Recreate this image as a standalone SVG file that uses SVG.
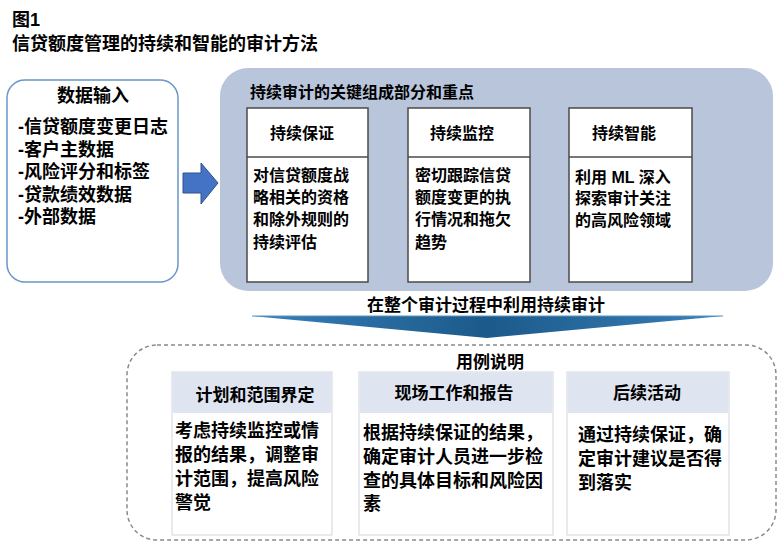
<svg xmlns="http://www.w3.org/2000/svg" width="780" height="550" viewBox="0 0 780 550">
<defs>
<style>
text{font-family:"Liberation Sans","Noto Sans CJK SC",sans-serif;font-weight:bold;fill:#000}
.t18{font-size:18px}
.t17{font-size:17px}
.t16{font-size:16px}
.mid{text-anchor:middle}
.inner{fill:#fff;stroke:#4a4a4a;stroke-width:1.5}
.sub{fill:#fff;stroke:#cfd5df;stroke-width:1}
.subhead{fill:#dfe5f0}
</style>
<linearGradient id="wedge" x1="0" y1="0" x2="1" y2="0">
<stop offset="0" stop-color="#3a7fb8"/>
<stop offset="0.5" stop-color="#1b5a8a"/>
<stop offset="1" stop-color="#3a7fb8"/>
</linearGradient>
</defs>
<rect width="780" height="550" fill="#fff"/>

<g id="title">
<text class="t18" x="12" y="26">图1</text>
<text class="t18" x="12" y="50">信贷额度管理的持续和智能的审计方法</text>
</g>

<g id="data-input">
<rect x="7" y="80" width="171" height="202" rx="18" fill="#fff" stroke="#6a96c8" stroke-width="1.5"/>
<text class="t18 mid" x="93" y="102">数据输入</text>
<text class="t18"><tspan x="18" y="133">-信贷额度变更日志</tspan><tspan x="18" dy="22.5">-客户主数据</tspan><tspan x="18" dy="22.5">-风险评分和标签</tspan><tspan x="18" dy="22.5">-贷款绩效数据</tspan><tspan x="18" dy="22.5">-外部数据</tspan></text>
</g>

<g id="key-components">
<rect x="220" y="68" width="553" height="223" rx="28" fill="#b8c5db"/>
<text class="t16" x="250" y="98">持续审计的关键组成部分和重点</text>
</g>

<g id="assurance">
<rect class="inner" x="247" y="108" width="121" height="174"/>
<line x1="247" y1="157" x2="368" y2="157" stroke="#4a4a4a" stroke-width="1.5"/>
<text class="t16" x="270" y="139">持续保证</text>
<text class="t16"><tspan x="253" y="181">对信贷额度战</tspan><tspan x="253" dy="22">略相关的资格</tspan><tspan x="253" dy="22">和除外规则的</tspan><tspan x="253" dy="23">持续评估</tspan></text>
</g>

<g id="monitoring">
<rect class="inner" x="408" y="108" width="122" height="174"/>
<line x1="408" y1="157" x2="530" y2="157" stroke="#4a4a4a" stroke-width="1.5"/>
<text class="t16" x="430" y="139">持续监控</text>
<text class="t16"><tspan x="415" y="181">密切跟踪信贷</tspan><tspan x="415" dy="22">额度变更的执</tspan><tspan x="415" dy="22">行情况和拖欠</tspan><tspan x="415" dy="23">趋势</tspan></text>
</g>

<g id="intelligence">
<rect class="inner" x="569" y="108" width="123" height="174"/>
<line x1="569" y1="157" x2="692" y2="157" stroke="#4a4a4a" stroke-width="1.5"/>
<text class="t16" x="592" y="139">持续智能</text>
<text class="t16" xml:space="preserve"><tspan x="575" y="183">利用 ML 深入</tspan><tspan x="575" dy="21">探索审计关注</tspan><tspan x="575" dy="22">的高风险领域</tspan></text>
</g>

<g id="connectors">
<polygon points="183,173 201,173 201,163 218,183 201,204 201,193 183,193" fill="#4472c4" stroke="#2f528f" stroke-width="1"/>
<polygon points="252,316 723,316 487,338" fill="url(#wedge)"/>
<line x1="252" y1="316" x2="723" y2="316" stroke="#5b95c8" stroke-width="1"/>
</g>

<g id="usage-label">
<text class="t17 mid" x="486" y="311">在整个审计过程中利用持续审计</text>
</g>

<g id="use-cases">
<rect x="127" y="345" width="649" height="195" rx="30" fill="none" stroke="#8a8a8a" stroke-width="1.5" stroke-dasharray="4 3"/>
<text class="t17 mid" x="490" y="368">用例说明</text>
</g>

<g id="planning">
<rect class="sub" x="172" y="372" width="160" height="163"/>
<rect class="subhead" x="172.5" y="372.5" width="159" height="40.5"/>
<text class="t17 mid" x="255" y="401">计划和范围界定</text>
<text class="t18"><tspan x="175" y="437">考虑持续监控或情</tspan><tspan x="175" dy="24">报的结果，调整审</tspan><tspan x="175" dy="24">计范围，提高风险</tspan><tspan x="175" dy="24">警觉</tspan></text>
</g>

<g id="fieldwork">
<rect class="sub" x="359" y="372" width="194" height="163"/>
<rect class="subhead" x="359.5" y="372.5" width="193" height="40.5"/>
<text class="t17 mid" x="454" y="399">现场工作和报告</text>
<text class="t18"><tspan x="363" y="439">根据持续保证的结果，</tspan><tspan x="363" dy="24">确定审计人员进一步检</tspan><tspan x="363" dy="24">查的具体目标和风险因</tspan><tspan x="363" dy="23">素</tspan></text>
</g>

<g id="follow-up">
<rect class="sub" x="567" y="372" width="162" height="163"/>
<rect class="subhead" x="567.5" y="372.5" width="161" height="40.5"/>
<text class="t17 mid" x="647" y="399">后续活动</text>
<text class="t18"><tspan x="578" y="441">通过持续保证，确</tspan><tspan x="578" dy="24">定审计建议是否得</tspan><tspan x="578" dy="24">到落实</tspan></text>
</g>
</svg>
